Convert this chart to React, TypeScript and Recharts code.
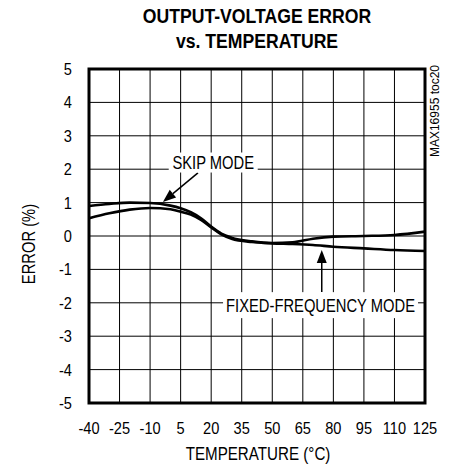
import React from 'react';
import {
  LineChart,
  Line,
  XAxis,
  YAxis,
  CartesianGrid,
  ReferenceArea,
  ReferenceDot,
  ReferenceLine,
  Customized,
} from 'recharts';

// ---- data ----
const temperatures = [-40, -30, -20, -10, 0, 5, 10, 15, 20, 25, 30, 40, 50, 60, 70, 80, 95, 110, 125];
const skipMode = [0.9, 0.96, 1.0, 0.99, 0.91, 0.83, 0.71, 0.53, 0.28, 0.07, -0.05, -0.16, -0.21, -0.19, -0.08, -0.02, 0.0, 0.03, 0.13];
const fixedFrequency = [0.53, 0.68, 0.79, 0.84, 0.8, 0.73, 0.64, 0.48, 0.26, 0.05, -0.08, -0.18, -0.22, -0.24, -0.27, -0.32, -0.37, -0.42, -0.45];
const xTicks = [-40, -25, -10, 5, 20, 35, 50, 65, 80, 95, 110, 125];
const yTicks = [-5, -4, -3, -2, -1, 0, 1, 2, 3, 4, 5];

const skipLabel = { text: 'SKIP MODE', t: 21, v: 2.2 };
const fixedLabel = { text: 'FIXED-FREQUENCY MODE', t: 73.7, v: -2.07 };
const skipArrow = [{ x: 13.5, y: 1.89 }, { x: -3.7, y: 1.02 }];
const fixedArrow = [{ x: 74.3, y: -1.68 }, { x: 74.3, y: -0.42 }];

const data = temperatures.map((t, i) => ({ t, skip: skipMode[i], fixed: fixedFrequency[i] }));

const SANS = "'Liberation Sans', Arial, Helvetica, sans-serif";

const ArrowShape = (props: any) => {
  const { x1, y1, x2, y2 } = props;
  const dx = x2 - x1;
  const dy = y2 - y1;
  const len = Math.hypot(dx, dy) || 1;
  const ux = dx / len;
  const uy = dy / len;
  const hl = 13;
  const hw = 5;
  const bx = x2 - ux * hl;
  const by = y2 - uy * hl;
  const px = -uy;
  const py = ux;
  return (
    <g>
      <line x1={x1} y1={y1} x2={bx} y2={by} stroke="#000" strokeWidth={1.5} />
      <polygon
        points={`${x2},${y2} ${bx + px * hw},${by + py * hw} ${bx - px * hw},${by - py * hw}`}
        fill="#000"
      />
    </g>
  );
};

const makeLabelShape = (text: string, w: number, h: number) => (props: any) => {
  const { cx, cy } = props;
  return (
    <g>
      <rect x={cx - w / 2} y={cy - h / 2} width={w} height={h} fill="#fff" />
      <text
        transform={`translate(${cx},${cy + 6.5}) scale(0.82,1)`}
        textAnchor="middle"
        fontSize={18}
        fontFamily={SANS}
        fill="#000"
      >
        {text}
      </text>
    </g>
  );
};

const XTick = (props: any) => {
  const { x, y, payload } = props;
  return (
    <text
      transform={`translate(${x},${y + 11}) scale(0.86,1)`}
      textAnchor="middle"
      fontSize={17}
      fontFamily={SANS}
      fill="#000"
    >
      {payload.value}
    </text>
  );
};

const YTick = (props: any) => {
  const { x, y, payload } = props;
  return (
    <text
      transform={`translate(${x},${y + 6}) scale(0.86,1)`}
      textAnchor="end"
      fontSize={17}
      fontFamily={SANS}
      fill="#000"
    >
      {payload.value}
    </text>
  );
};

const TextLayer = () => (
  <g fontFamily={SANS} fill="#000">
    <text transform="translate(257,23) scale(0.84,1)" textAnchor="middle" fontSize={21} fontWeight="bold">
      OUTPUT-VOLTAGE ERROR
    </text>
    <text transform="translate(257,48) scale(0.84,1)" textAnchor="middle" fontSize={21} fontWeight="bold">
      vs. TEMPERATURE
    </text>
    <text transform="translate(258,460) scale(0.82,1)" textAnchor="middle" fontSize={18.5}>
      TEMPERATURE (°C)
    </text>
    <text transform="translate(35,244) rotate(-90) scale(0.82,1)" textAnchor="middle" fontSize={18}>
      ERROR (%)
    </text>
    <text transform="translate(439,65) rotate(-90)" textAnchor="end" fontSize={12}>
      MAX16955 toc20
    </text>
  </g>
);

export default function App() {
  return (
    <div style={{ position: 'absolute', left: 0, top: 0, width: 451, height: 468, background: '#fff' }}>
      <LineChart width={451} height={468} data={data} margin={{ top: 69, right: 26, left: 0, bottom: 0 }}>
        <CartesianGrid stroke="#000" strokeWidth={1} />
        <XAxis
          dataKey="t"
          type="number"
          domain={[-40, 125]}
          ticks={xTicks}
          interval={0}
          height={65}
          axisLine={false}
          tickLine={false}
          tickSize={0}
          tickMargin={20}
          tick={<XTick />}
        />
        <YAxis
          type="number"
          domain={[-5, 5]}
          ticks={yTicks}
          interval={0}
          width={89}
          axisLine={false}
          tickLine={false}
          tickSize={0}
          tickMargin={17}
          tick={<YTick />}
        />
        <ReferenceDot x={skipLabel.t} y={skipLabel.v} r={1} shape={makeLabelShape(skipLabel.text, 89, 20)} />
        <ReferenceDot x={fixedLabel.t} y={fixedLabel.v} r={1} shape={makeLabelShape(fixedLabel.text, 195, 26)} />
        <ReferenceLine segment={skipArrow} shape={ArrowShape} />
        <ReferenceLine segment={fixedArrow} shape={ArrowShape} />
        <Line type="monotone" dataKey="skip" stroke="#000" strokeWidth={2.6} dot={false} isAnimationActive={false} />
        <Line type="monotone" dataKey="fixed" stroke="#000" strokeWidth={2.6} dot={false} isAnimationActive={false} />
        <ReferenceArea x1={-40} x2={125} y1={-5} y2={5} fill="none" fillOpacity={0} stroke="#000" strokeWidth={3} />
        <Customized component={<TextLayer />} />
      </LineChart>
    </div>
  );
}
